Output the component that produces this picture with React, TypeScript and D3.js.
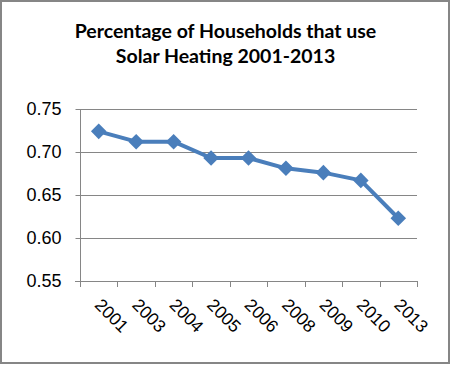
import React, { useEffect, useRef } from 'react';
import * as d3 from 'd3';

const years = ['2001', '2003', '2004', '2005', '2006', '2008', '2009', '2010', '2013'];
const shares = [0.724, 0.712, 0.712, 0.693, 0.693, 0.681, 0.676, 0.667, 0.623];
const yTicks = [0.55, 0.6, 0.65, 0.7, 0.75];
const titleLines = ['Percentage of Households that use', 'Solar Heating 2001-2013'];

const W = 451;
const H = 365;

const drawChart = (svgEl: SVGSVGElement) => {
  const svg = d3.select(svgEl);
  svg.selectAll('*').remove();

  const left = 80, right = 417, top = 109, bottom = 281;
  const grey = '#868686';
  const blue = '#4a7ebb';
  const labelFont = '"Liberation Sans", Arial, sans-serif';

  svg.append('rect')
    .attr('x', 1).attr('y', 1)
    .attr('width', W - 3).attr('height', H - 3)
    .attr('fill', '#fff')
    .attr('stroke', grey)
    .attr('stroke-width', 2);

  svg.selectAll('.title')
    .data(titleLines)
    .enter().append('text')
    .attr('x', W / 2)
    .attr('y', (d, i) => 38 + i * 25)
    .attr('text-anchor', 'middle')
    .style('font-family', 'Lato, "Open Sans", sans-serif')
    .style('font-weight', 'bold')
    .style('font-size', '19.5px')
    .attr('fill', '#000')
    .text(d => d);

  const x = d3.scaleBand().domain(years).range([left, right]);
  const y = d3.scaleLinear().domain([0.55, 0.75]).range([bottom, top]);

  // gridlines
  svg.selectAll('.grid')
    .data(yTicks.filter(t => t > 0.55))
    .enter().append('line')
    .attr('x1', left).attr('x2', right)
    .attr('y1', d => Math.round(y(d)) + 0.5)
    .attr('y2', d => Math.round(y(d)) + 0.5)
    .attr('stroke', grey);

  const yAxis = svg.append('g')
    .attr('transform', `translate(${left + 0.5},0)`)
    .call(d3.axisLeft(y).tickValues(yTicks).tickFormat(d3.format('.2f')).tickSize(5).tickPadding(14));
  yAxis.select('.domain').attr('stroke', grey).attr('d', `M-5,${bottom + 0.5}H0V${top}`);
  yAxis.selectAll('.tick line').attr('stroke', grey);
  yAxis.selectAll('.tick text')
    .style('font-family', labelFont)
    .style('font-size', '18px')
    .attr('fill', '#000');

  // x axis with ticks at band boundaries
  const xAxis = svg.append('g');
  xAxis.append('line')
    .attr('x1', left - 5).attr('x2', right)
    .attr('y1', bottom + 0.5).attr('y2', bottom + 0.5)
    .attr('stroke', grey);
  const bounds = years.map(d => x(d) as number).concat([right]);
  xAxis.selectAll('.xt')
    .data(bounds)
    .enter().append('line')
    .attr('x1', d => Math.round(d) + 0.5).attr('x2', d => Math.round(d) + 0.5)
    .attr('y1', bottom).attr('y2', bottom + 6)
    .attr('stroke', grey);
  xAxis.selectAll('.xl')
    .data(years)
    .enter().append('text')
    .attr('transform', d => `translate(${(x(d) as number) + x.bandwidth() / 2 - 5},${bottom + 25}) rotate(45)`)
    .style('font-family', labelFont)
    .style('font-size', '17.5px')
    .attr('fill', '#000')
    .text(d => d);

  const pts = years.map((d, i) => [(x(d) as number) + x.bandwidth() / 2, y(shares[i])] as [number, number]);

  svg.append('path')
    .attr('d', d3.line()(pts))
    .attr('fill', 'none')
    .attr('stroke', blue)
    .attr('stroke-width', 4)
    .attr('stroke-linejoin', 'round');

  svg.selectAll('.dot')
    .data(pts)
    .enter().append('path')
    .attr('transform', d => `translate(${d[0]},${d[1]}) rotate(45)`)
    .attr('d', 'M-5.5,-5.5H5.5V5.5H-5.5Z')
    .attr('fill', blue);
};

const App = () => {
  const ref = useRef<SVGSVGElement>(null);
  useEffect(() => {
    if (ref.current) drawChart(ref.current);
  }, []);
  return (
    <svg ref={ref} width={W} height={H} style={{ display: 'block', position: 'absolute', left: 0, top: 0 }} />
  );
};

export default App;
